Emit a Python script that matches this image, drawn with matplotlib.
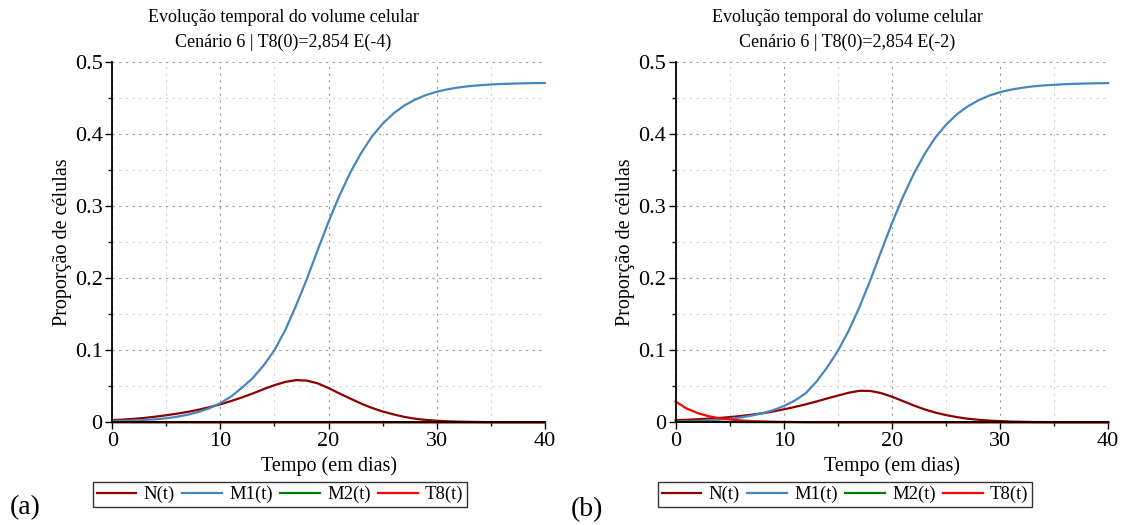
import matplotlib.pyplot as plt
from matplotlib.ticker import MultipleLocator

plt.rcParams['font.family'] = ['Liberation Serif', 'DejaVu Serif']

# time in days (one point per day)
dias = list(range(0, 41))

# panel (a): T8(0) = 2,854 E(-4)
n_a = [0.0030, 0.0038, 0.0048, 0.0061, 0.0078, 0.0098, 0.0120, 0.0145, 0.0175, 0.0210,
       0.0250, 0.0295, 0.0345, 0.0400, 0.0460, 0.0515, 0.0560, 0.0585, 0.0578, 0.0540,
       0.0475, 0.0400, 0.0330, 0.0260, 0.0200, 0.0150, 0.0110, 0.0075, 0.0050, 0.0033,
       0.0022, 0.0014, 0.0009, 0.0006, 0.0004, 0.0002, 0.0001, 0.0001, 0.0001, 0.0000,
       0.0000]
m1_a = [0.0018, 0.0021, 0.0026, 0.0033, 0.0041, 0.0056, 0.0077, 0.0106, 0.0144, 0.0196,
        0.0266, 0.0359, 0.0480, 0.0615, 0.0790, 0.1000, 0.1280, 0.1620, 0.1990, 0.2390,
        0.2780, 0.3140, 0.3460, 0.3730, 0.3960, 0.4140, 0.4282, 0.4392, 0.4474, 0.4537,
        0.4583, 0.4617, 0.4642, 0.4661, 0.4674, 0.4684, 0.4691, 0.4696, 0.4700, 0.4703,
        0.4705]
m2_a = [0.0001, 0.0001, 0.0001, 0.0001, 0.0001, 0.0001, 0.0001, 0.0001, 0.0000, 0.0000,
        0.0000, 0.0000, 0.0000, 0.0000, 0.0000, 0.0000, 0.0000, 0.0000, 0.0000, 0.0000,
        0.0000, 0.0000, 0.0000, 0.0000, 0.0000, 0.0000, 0.0000, 0.0000, 0.0000, 0.0000,
        0.0000, 0.0000, 0.0000, 0.0000, 0.0000, 0.0000, 0.0000, 0.0000, 0.0000, 0.0000,
        0.0000]
t8_a = [0.00029, 0.00019, 0.00013, 0.00009, 0.00006, 0.00004, 0.00003, 0.00002, 0.00001, 0.00001,
        0.0, 0.0, 0.0, 0.0, 0.0, 0.0, 0.0, 0.0, 0.0, 0.0,
        0.0, 0.0, 0.0, 0.0, 0.0, 0.0, 0.0, 0.0, 0.0, 0.0,
        0.0, 0.0, 0.0, 0.0, 0.0, 0.0, 0.0, 0.0, 0.0, 0.0,
        0.0]

# panel (b): T8(0) = 2,854 E(-2)
n_b = [0.0030, 0.0035, 0.0042, 0.0050, 0.0060, 0.0072, 0.0087, 0.0105, 0.0125, 0.0150,
       0.0180, 0.0212, 0.0248, 0.0288, 0.0330, 0.0370, 0.0410, 0.0437, 0.0435, 0.0405,
       0.0355, 0.0295, 0.0235, 0.0180, 0.0135, 0.0100, 0.0072, 0.0050, 0.0035, 0.0024,
       0.0016, 0.0010, 0.0007, 0.0004, 0.0003, 0.0002, 0.0001, 0.0001, 0.0001, 0.0001,
       0.0000]
m1_b = [0.0012, 0.0015, 0.0020, 0.0027, 0.0036, 0.0050, 0.0067, 0.0092, 0.0125, 0.0168,
        0.0225, 0.0300, 0.0400, 0.0560, 0.0760, 0.0990, 0.1270, 0.1600, 0.1970, 0.2370,
        0.2760, 0.3120, 0.3440, 0.3715, 0.3945, 0.4125, 0.4270, 0.4380, 0.4465, 0.4530,
        0.4578, 0.4612, 0.4638, 0.4657, 0.4670, 0.4680, 0.4688, 0.4694, 0.4698, 0.4701,
        0.4703]
m2_b = [0.0008, 0.0008, 0.0007, 0.0006, 0.0005, 0.0004, 0.0003, 0.0002, 0.0002, 0.0001,
        0.0001, 0.0001, 0.0000, 0.0000, 0.0000, 0.0000, 0.0000, 0.0000, 0.0000, 0.0000,
        0.0000, 0.0000, 0.0000, 0.0000, 0.0000, 0.0000, 0.0000, 0.0000, 0.0000, 0.0000,
        0.0000, 0.0000, 0.0000, 0.0000, 0.0000, 0.0000, 0.0000, 0.0000, 0.0000, 0.0000,
        0.0000]
t8_b = [0.0287, 0.0192, 0.0129, 0.0086, 0.0058, 0.0039, 0.0026, 0.0017, 0.0012, 0.0008,
        0.0005, 0.0004, 0.0002, 0.0001, 0.0001, 0.0001, 0.0000, 0.0000, 0.0000, 0.0000,
        0.0000, 0.0000, 0.0000, 0.0000, 0.0000, 0.0000, 0.0000, 0.0000, 0.0000, 0.0000,
        0.0000, 0.0000, 0.0000, 0.0000, 0.0000, 0.0000, 0.0000, 0.0000, 0.0000, 0.0000,
        0.0000]

nomes = ['N(t)', 'M1(t)', 'M2(t)', 'T8(t)']
cores = ['#8B0000', '#4A86BE', '#008000', '#FF0000']
subtitulos = ['Cenário 6 | T8(0)=2,854 E(-4)', 'Cenário 6 | T8(0)=2,854 E(-2)']
letras = ['(a)', '(b)']
y_ticks = [0, 0.1, 0.2, 0.3, 0.4, 0.5]
y_labels = ['0', '0.1', '0.2', '0.3', '0.4', '0.5']
x_ticks = [0, 10, 20, 30, 40]

W, H = 1123, 525
fig = plt.figure(figsize=(W / 100, H / 100), dpi=100)

paineis = [(n_a, m1_a, m2_a, t8_a), (n_b, m1_b, m2_b, t8_b)]
esquerda = [112.3, 675.7]
centro_txt = [283, 847]
centro_leg = [280, 845]
letra_pos = [(25, 508), (587, 510)]

for k, series in enumerate(paineis):
    x0 = esquerda[k]
    ax = fig.add_axes([x0 / W, 1 - 422.3 / H, 432.5 / W, 360.6 / H])
    ax.set_xlim(0, 40)
    ax.set_ylim(0, 0.5)

    ax.set_xticks(x_ticks, [str(v) for v in x_ticks])
    ax.set_yticks(y_ticks, y_labels)
    ax.xaxis.set_minor_locator(MultipleLocator(5))
    ax.yaxis.set_minor_locator(MultipleLocator(0.05))

    ax.grid(which='major', color='#9a9a9a', linestyle=(0, (2, 4)), linewidth=0.8)
    ax.grid(which='minor', color='#d2d2d2', linestyle=(0, (2, 4)), linewidth=0.8)
    ax.set_axisbelow(True)

    for lado in ['top', 'right']:
        ax.spines[lado].set_visible(False)
    ax.spines['left'].set_linewidth(1.3)
    ax.spines['bottom'].set_linewidth(1.3)
    ax.tick_params(which='major', length=5, width=1, labelsize=16, pad=2)
    ax.tick_params(which='minor', length=3, width=1)

    linhas = []
    for valores, nome, cor in zip(series, nomes, cores):
        ln, = ax.plot(dias, valores, color=cor, linewidth=1.6, label=nome, clip_on=False)
        linhas.append(ln)

    ax.set_xlabel('Tempo (em dias)', fontsize=14.5, labelpad=4)
    ax.set_ylabel('Proporção de células', fontsize=14.5, labelpad=2)

    cx = centro_txt[k] / W
    fig.text(cx, 1 - 18 / H, 'Evolução temporal do volume celular', ha='center', va='center', fontsize=13)
    fig.text(cx, 1 - 42 / H, subtitulos[k], ha='center', va='center', fontsize=13)

    leg = fig.legend(handles=linhas, loc='center', bbox_to_anchor=(centro_leg[k] / W, 1 - 494.5 / H),
                     ncol=4, fontsize=13.5, frameon=True, fancybox=False, handlelength=2.1,
                     columnspacing=0.4, handletextpad=0.4, borderpad=0.2, borderaxespad=0)
    leg.get_frame().set_edgecolor('black')
    leg.get_frame().set_linewidth(1.0)

    lx, ly = letra_pos[k]
    fig.text(lx / W, 1 - ly / H, letras[k], ha='center', va='center', fontsize=20)

fig.savefig('out.png', dpi=100)
